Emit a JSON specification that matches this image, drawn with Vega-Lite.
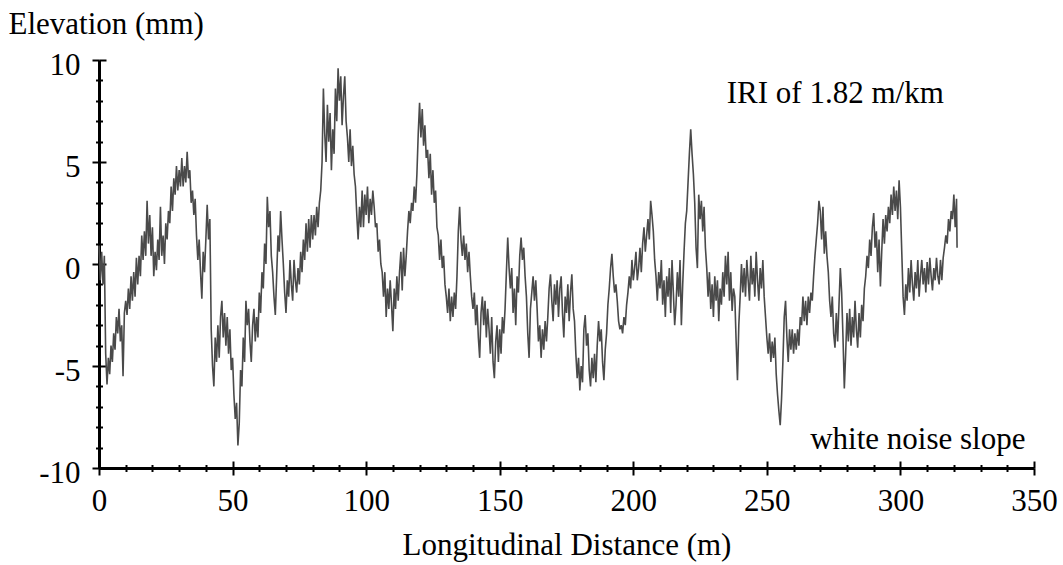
{
  "$schema": "https://vega.github.io/schema/vega-lite/v6.json",
  "width": 935,
  "height": 408,
  "autosize": {"type": "none"},
  "padding": {"left": 99, "top": 60, "right": 29, "bottom": 97},
  "background": "white",
  "config": {
    "view": {"stroke": null},
    "font": "Liberation Serif",
    "axis": {"grid": false}
  },
  "data": {"values": [
    {"d":0,"e":0.9},{"d":0.5,"e":-0.8},{"d":1,"e":0.6},{"d":1.5,"e":-1.0},{"d":2,"e":0.4},{"d":2.5,"e":-4.4},{"d":3,"e":-5.9},{"d":3.5,"e":-4.6},{"d":4,"e":-5.4},{"d":4.5,"e":-4.0},
    {"d":5,"e":-4.8},{"d":5.5,"e":-3.4},{"d":6,"e":-4.2},{"d":6.5,"e":-2.6},{"d":7,"e":-3.4},{"d":7.5,"e":-2.2},{"d":8,"e":-3.8},{"d":8.5,"e":-3.0},{"d":9,"e":-5.5},{"d":9.5,"e":-2.4},
    {"d":10,"e":-1.8},{"d":10.5,"e":-2.5},{"d":11,"e":-1.2},{"d":11.5,"e":-2.2},{"d":12,"e":-0.6},{"d":12.5,"e":-1.8},{"d":13,"e":-0.4},{"d":13.5,"e":-1.6},{"d":14,"e":0.3},{"d":14.5,"e":-1.0},
    {"d":15,"e":0.4},{"d":15.5,"e":-0.6},{"d":16,"e":1.4},{"d":16.5,"e":0.2},{"d":17,"e":1.6},{"d":17.5,"e":0.4},{"d":18,"e":3.1},{"d":18.5,"e":1.0},{"d":19,"e":2.4},{"d":19.5,"e":0.4},
    {"d":20,"e":1.8},{"d":20.5,"e":-0.6},{"d":21,"e":0.6},{"d":21.5,"e":-0.3},{"d":22,"e":1.2},{"d":22.5,"e":0.2},{"d":23,"e":2.8},{"d":23.5,"e":0.4},{"d":24,"e":1.4},{"d":24.5,"e":0.0},
    {"d":25,"e":2.0},{"d":25.5,"e":1.2},{"d":26,"e":2.6},{"d":26.5,"e":2.0},{"d":27,"e":3.8},{"d":27.5,"e":2.6},{"d":28,"e":4.2},{"d":28.5,"e":3.4},{"d":29,"e":4.8},{"d":29.5,"e":3.6},
    {"d":30,"e":4.6},{"d":30.5,"e":3.8},{"d":31,"e":5.2},{"d":31.5,"e":3.8},{"d":32,"e":4.8},{"d":32.5,"e":4.0},{"d":33,"e":5.5},{"d":33.5,"e":4.2},{"d":34,"e":4.6},{"d":34.5,"e":3.0},
    {"d":35,"e":3.6},{"d":35.5,"e":2.4},{"d":36,"e":3.2},{"d":36.5,"e":1.4},{"d":37,"e":0.2},{"d":37.5,"e":1.2},{"d":38,"e":-0.4},{"d":38.5,"e":-1.7},{"d":39,"e":0.6},{"d":39.5,"e":-0.4},
    {"d":40,"e":1.2},{"d":40.5,"e":2.9},{"d":41,"e":1.2},{"d":41.5,"e":2.2},{"d":42,"e":-3.2},{"d":42.5,"e":-5.0},{"d":43,"e":-6.0},{"d":43.5,"e":-3.6},{"d":44,"e":-4.8},{"d":44.5,"e":-3.0},
    {"d":45,"e":-4.6},{"d":45.5,"e":-2.6},{"d":46,"e":-1.8},{"d":46.5,"e":-3.6},{"d":47,"e":-2.4},{"d":47.5,"e":-4.0},{"d":48,"e":-2.6},{"d":48.5,"e":-4.4},{"d":49,"e":-3.2},{"d":49.5,"e":-5.2},
    {"d":50,"e":-4.6},{"d":50.5,"e":-6.4},{"d":51,"e":-7.6},{"d":51.5,"e":-6.8},{"d":52,"e":-8.9},{"d":52.5,"e":-7.8},{"d":53,"e":-5.2},{"d":53.5,"e":-6.0},{"d":54,"e":-3.6},{"d":54.5,"e":-4.8},
    {"d":55,"e":-1.8},{"d":55.5,"e":-3.0},{"d":56,"e":-2.2},{"d":56.5,"e":-3.8},{"d":57,"e":-4.8},{"d":57.5,"e":-3.0},{"d":58,"e":-2.2},{"d":58.5,"e":-3.8},{"d":59,"e":-2.6},{"d":59.5,"e":-3.6},
    {"d":60,"e":-1.4},{"d":60.5,"e":-2.4},{"d":61,"e":-0.4},{"d":61.5,"e":-1.2},{"d":62,"e":1.0},{"d":62.5,"e":0.0},{"d":63,"e":3.3},{"d":63.5,"e":1.8},{"d":64,"e":2.6},{"d":64.5,"e":0.4},
    {"d":65,"e":-0.4},{"d":65.5,"e":-1.6},{"d":66,"e":-2.5},{"d":66.5,"e":-0.6},{"d":67,"e":1.4},{"d":67.5,"e":0.6},{"d":68,"e":2.6},{"d":68.5,"e":1.2},{"d":69,"e":0.0},{"d":69.5,"e":-1.4},
    {"d":70,"e":-2.4},{"d":70.5,"e":-0.8},{"d":71,"e":-1.6},{"d":71.5,"e":0.2},{"d":72,"e":-1.0},{"d":72.5,"e":-1.8},{"d":73,"e":0.2},{"d":73.5,"e":-0.8},{"d":74,"e":-1.4},{"d":74.5,"e":-0.2},
    {"d":75,"e":-1.0},{"d":75.5,"e":0.6},{"d":76,"e":-0.4},{"d":76.5,"e":1.2},{"d":77,"e":0.2},{"d":77.5,"e":2.0},{"d":78,"e":0.6},{"d":78.5,"e":2.2},{"d":79,"e":0.8},{"d":79.5,"e":2.4},
    {"d":80,"e":1.2},{"d":80.5,"e":2.4},{"d":81,"e":1.4},{"d":81.5,"e":2.8},{"d":82,"e":1.8},{"d":82.5,"e":3.0},{"d":83,"e":3.6},{"d":83.5,"e":5.0},{"d":84,"e":8.6},{"d":84.5,"e":6.4},
    {"d":85,"e":5.0},{"d":85.5,"e":7.8},{"d":86,"e":6.0},{"d":86.5,"e":7.4},{"d":87,"e":4.6},{"d":87.5,"e":6.6},{"d":88,"e":5.4},{"d":88.5,"e":8.6},{"d":89,"e":7.0},{"d":89.5,"e":9.6},
    {"d":90,"e":8.0},{"d":90.5,"e":9.2},{"d":91,"e":6.8},{"d":91.5,"e":8.2},{"d":92,"e":9.2},{"d":92.5,"e":7.0},{"d":93,"e":6.2},{"d":93.5,"e":5.0},{"d":94,"e":6.6},{"d":94.5,"e":4.8},
    {"d":95,"e":5.8},{"d":95.5,"e":4.4},{"d":96,"e":3.8},{"d":96.5,"e":2.4},{"d":97,"e":1.2},{"d":97.5,"e":2.8},{"d":98,"e":1.8},{"d":98.5,"e":3.6},{"d":99,"e":1.8},{"d":99.5,"e":3.4},
    {"d":100,"e":2.4},{"d":100.5,"e":3.8},{"d":101,"e":2.0},{"d":101.5,"e":3.2},{"d":102,"e":2.4},{"d":102.5,"e":3.6},{"d":103,"e":2.8},{"d":103.5,"e":1.8},{"d":104,"e":2.0},{"d":104.5,"e":0.6},
    {"d":105,"e":1.2},{"d":105.5,"e":0.0},{"d":106,"e":-0.4},{"d":106.5,"e":-1.6},{"d":107,"e":-0.4},{"d":107.5,"e":-2.6},{"d":108,"e":-1.2},{"d":108.5,"e":-2.2},{"d":109,"e":-0.8},{"d":109.5,"e":-2.0},
    {"d":110,"e":-3.3},{"d":110.5,"e":-1.2},{"d":111,"e":-2.2},{"d":111.5,"e":-0.6},{"d":112,"e":-1.8},{"d":112.5,"e":-0.4},{"d":113,"e":0.6},{"d":113.5,"e":-1.3},{"d":114,"e":0.8},{"d":114.5,"e":-0.6},
    {"d":115,"e":0.4},{"d":115.5,"e":1.6},{"d":116,"e":2.6},{"d":116.5,"e":2.0},{"d":117,"e":3.0},{"d":117.5,"e":2.6},{"d":118,"e":3.8},{"d":118.5,"e":3.0},{"d":119,"e":4.4},{"d":119.5,"e":6.4},
    {"d":120,"e":7.9},{"d":120.5,"e":6.2},{"d":121,"e":7.6},{"d":121.5,"e":5.8},{"d":122,"e":6.8},{"d":122.5,"e":5.2},{"d":123,"e":5.6},{"d":123.5,"e":4.2},{"d":124,"e":5.4},{"d":124.5,"e":3.4},
    {"d":125,"e":4.6},{"d":125.5,"e":3.0},{"d":126,"e":3.6},{"d":126.5,"e":1.8},{"d":127,"e":1.4},{"d":127.5,"e":0.2},{"d":128,"e":1.2},{"d":128.5,"e":-0.2},{"d":129,"e":0.4},{"d":129.5,"e":-1.0},
    {"d":130,"e":-1.6},{"d":130.5,"e":-2.4},{"d":131,"e":-1.2},{"d":131.5,"e":-2.8},{"d":132,"e":-1.6},{"d":132.5,"e":-2.6},{"d":133,"e":-1.4},{"d":133.5,"e":-2.2},{"d":134,"e":-0.6},{"d":134.5,"e":1.6},
    {"d":135,"e":2.8},{"d":135.5,"e":1.2},{"d":136,"e":0.4},{"d":136.5,"e":1.4},{"d":137,"e":0.2},{"d":137.5,"e":1.0},{"d":138,"e":-0.4},{"d":138.5,"e":0.6},{"d":139,"e":-0.6},{"d":139.5,"e":-1.6},
    {"d":140,"e":-2.2},{"d":140.5,"e":-1.4},{"d":141,"e":-3.0},{"d":141.5,"e":-2.0},{"d":142,"e":-3.6},{"d":142.5,"e":-4.6},{"d":143,"e":-2.4},{"d":143.5,"e":-1.6},{"d":144,"e":-3.0},{"d":144.5,"e":-1.8},
    {"d":145,"e":-3.6},{"d":145.5,"e":-2.2},{"d":146,"e":-3.2},{"d":146.5,"e":-4.4},{"d":147,"e":-2.6},{"d":147.5,"e":-4.8},{"d":148,"e":-5.6},{"d":148.5,"e":-3.8},{"d":149,"e":-3.0},{"d":149.5,"e":-4.8},
    {"d":150,"e":-3.2},{"d":150.5,"e":-4.4},{"d":151,"e":-2.6},{"d":151.5,"e":-3.4},{"d":152,"e":-2.2},{"d":152.5,"e":-0.4},{"d":153,"e":1.3},{"d":153.5,"e":-0.2},{"d":154,"e":-1.2},{"d":154.5,"e":-0.2},
    {"d":155,"e":-2.4},{"d":155.5,"e":-1.2},{"d":156,"e":-3.0},{"d":156.5,"e":-0.6},{"d":157,"e":-1.4},{"d":157.5,"e":0.4},{"d":158,"e":1.3},{"d":158.5,"e":0.2},{"d":159,"e":0.8},{"d":159.5,"e":-0.6},
    {"d":160,"e":-1.6},{"d":160.5,"e":-3.4},{"d":161,"e":-4.6},{"d":161.5,"e":-2.2},{"d":162,"e":-1.4},{"d":162.5,"e":-0.6},{"d":163,"e":-1.8},{"d":163.5,"e":-0.8},{"d":164,"e":-2.2},{"d":164.5,"e":-3.8},
    {"d":165,"e":-3.0},{"d":165.5,"e":-4.6},{"d":166,"e":-3.2},{"d":166.5,"e":-4.2},{"d":167,"e":-2.8},{"d":167.5,"e":-3.8},{"d":168,"e":-2.6},{"d":168.5,"e":-1.2},{"d":169,"e":-0.5},{"d":169.5,"e":-1.8},
    {"d":170,"e":-2.8},{"d":170.5,"e":-1.0},{"d":171,"e":-2.0},{"d":171.5,"e":-0.8},{"d":172,"e":-2.6},{"d":172.5,"e":-1.2},{"d":173,"e":-0.6},{"d":173.5,"e":-2.4},{"d":174,"e":-3.6},{"d":174.5,"e":-1.6},
    {"d":175,"e":-2.4},{"d":175.5,"e":-1.0},{"d":176,"e":-2.8},{"d":176.5,"e":-1.4},{"d":177,"e":-0.5},{"d":177.5,"e":-2.2},{"d":178,"e":-2.8},{"d":178.5,"e":-4.4},{"d":179,"e":-5.6},{"d":179.5,"e":-4.6},
    {"d":180,"e":-6.2},{"d":180.5,"e":-5.0},{"d":181,"e":-5.8},{"d":181.5,"e":-3.2},{"d":182,"e":-2.5},{"d":182.5,"e":-4.0},{"d":183,"e":-3.4},{"d":183.5,"e":-5.2},{"d":184,"e":-6.0},{"d":184.5,"e":-4.6},
    {"d":185,"e":-5.6},{"d":185.5,"e":-4.4},{"d":186,"e":-5.8},{"d":186.5,"e":-4.0},{"d":187,"e":-2.8},{"d":187.5,"e":-3.8},{"d":188,"e":-3.2},{"d":188.5,"e":-4.8},{"d":189,"e":-5.7},{"d":189.5,"e":-4.2},
    {"d":190,"e":-3.4},{"d":190.5,"e":-2.0},{"d":191,"e":-1.2},{"d":191.5,"e":-0.2},{"d":192,"e":0.5},{"d":192.5,"e":-0.6},{"d":193,"e":-1.4},{"d":193.5,"e":-1.0},{"d":194,"e":-1.8},{"d":194.5,"e":-2.8},
    {"d":195,"e":-3.2},{"d":195.5,"e":-3.0},{"d":196,"e":-3.4},{"d":196.5,"e":-2.6},{"d":197,"e":-3.0},{"d":197.5,"e":-2.0},{"d":198,"e":-1.4},{"d":198.5,"e":-0.6},{"d":199,"e":-1.2},{"d":199.5,"e":0.2},
    {"d":200,"e":-0.8},{"d":200.5,"e":-0.2},{"d":201,"e":0.6},{"d":201.5,"e":-0.8},{"d":202,"e":-0.2},{"d":202.5,"e":0.8},{"d":203,"e":-0.4},{"d":203.5,"e":1.0},{"d":204,"e":1.8},{"d":204.5,"e":0.6},
    {"d":205,"e":1.4},{"d":205.5,"e":2.2},{"d":206,"e":1.2},{"d":206.5,"e":3.1},{"d":207,"e":2.4},{"d":207.5,"e":1.6},{"d":208,"e":0.2},{"d":208.5,"e":-0.6},{"d":209,"e":-1.8},{"d":209.5,"e":-0.4},
    {"d":210,"e":-1.2},{"d":210.5,"e":0.2},{"d":211,"e":-2.0},{"d":211.5,"e":-0.8},{"d":212,"e":-2.6},{"d":212.5,"e":-0.6},{"d":213,"e":-1.6},{"d":213.5,"e":-0.2},{"d":214,"e":-2.4},{"d":214.5,"e":0.2},
    {"d":215,"e":-1.4},{"d":215.5,"e":-3.0},{"d":216,"e":-2.0},{"d":216.5,"e":-0.4},{"d":217,"e":-1.6},{"d":217.5,"e":0.2},{"d":218,"e":-3.0},{"d":218.5,"e":-1.0},{"d":219,"e":0.6},{"d":219.5,"e":2.0},
    {"d":220,"e":2.6},{"d":220.5,"e":4.0},{"d":221,"e":5.4},{"d":221.5,"e":6.6},{"d":222,"e":5.4},{"d":222.5,"e":4.4},{"d":223,"e":3.0},{"d":223.5,"e":0.8},{"d":224,"e":-0.2},{"d":224.5,"e":3.4},
    {"d":225,"e":2.2},{"d":225.5,"e":3.1},{"d":226,"e":1.6},{"d":226.5,"e":2.8},{"d":227,"e":0.8},{"d":227.5,"e":-0.2},{"d":228,"e":-1.6},{"d":228.5,"e":-0.4},{"d":229,"e":-2.2},{"d":229.5,"e":-1.0},
    {"d":230,"e":-2.6},{"d":230.5,"e":-0.6},{"d":231,"e":-1.8},{"d":231.5,"e":-0.8},{"d":232,"e":-2.8},{"d":232.5,"e":-1.2},{"d":233,"e":-2.0},{"d":233.5,"e":-0.4},{"d":234,"e":-1.6},{"d":234.5,"e":0.4},
    {"d":235,"e":-1.0},{"d":235.5,"e":0.6},{"d":236,"e":-1.8},{"d":236.5,"e":-0.4},{"d":237,"e":-2.3},{"d":237.5,"e":-1.2},{"d":238,"e":-1.6},{"d":238.5,"e":-3.8},{"d":239,"e":-5.7},{"d":239.5,"e":-3.0},
    {"d":240,"e":-1.6},{"d":240.5,"e":0.0},{"d":241,"e":-1.4},{"d":241.5,"e":-0.2},{"d":242,"e":-1.6},{"d":242.5,"e":0.2},{"d":243,"e":-0.8},{"d":243.5,"e":-1.8},{"d":244,"e":0.4},{"d":244.5,"e":-1.0},
    {"d":245,"e":-0.2},{"d":245.5,"e":-1.6},{"d":246,"e":0.6},{"d":246.5,"e":-0.8},{"d":247,"e":-1.8},{"d":247.5,"e":-0.2},{"d":248,"e":-1.2},{"d":248.5,"e":0.2},{"d":249,"e":-1.6},{"d":249.5,"e":-2.6},
    {"d":250,"e":-3.6},{"d":250.5,"e":-4.4},{"d":251,"e":-3.4},{"d":251.5,"e":-4.8},{"d":252,"e":-3.8},{"d":252.5,"e":-4.6},{"d":253,"e":-3.6},{"d":253.5,"e":-5.4},{"d":254,"e":-6.4},{"d":254.5,"e":-7.2},
    {"d":255,"e":-7.9},{"d":255.5,"e":-6.6},{"d":256,"e":-4.8},{"d":256.5,"e":-2.6},{"d":257,"e":-1.8},{"d":257.5,"e":-3.6},{"d":258,"e":-4.8},{"d":258.5,"e":-3.2},{"d":259,"e":-4.2},{"d":259.5,"e":-3.2},
    {"d":260,"e":-4.4},{"d":260.5,"e":-3.4},{"d":261,"e":-4.2},{"d":261.5,"e":-3.2},{"d":262,"e":-4.0},{"d":262.5,"e":-2.6},{"d":263,"e":-3.0},{"d":263.5,"e":-1.6},{"d":264,"e":-2.8},{"d":264.5,"e":-1.8},
    {"d":265,"e":-3.0},{"d":265.5,"e":-1.6},{"d":266,"e":-2.4},{"d":266.5,"e":-1.4},{"d":267,"e":-1.8},{"d":267.5,"e":-0.6},{"d":268,"e":0.4},{"d":268.5,"e":1.2},{"d":269,"e":2.0},{"d":269.5,"e":3.1},
    {"d":270,"e":2.6},{"d":270.5,"e":1.2},{"d":271,"e":2.8},{"d":271.5,"e":0.5},{"d":272,"e":1.6},{"d":272.5,"e":0.4},{"d":273,"e":-0.4},{"d":273.5,"e":-1.8},{"d":274,"e":-2.6},{"d":274.5,"e":-1.6},
    {"d":275,"e":-3.4},{"d":275.5,"e":-4.1},{"d":276,"e":-2.4},{"d":276.5,"e":-3.8},{"d":277,"e":-2.0},{"d":277.5,"e":-0.2},{"d":278,"e":-1.4},{"d":278.5,"e":-3.6},{"d":279,"e":-6.1},{"d":279.5,"e":-4.4},
    {"d":280,"e":-2.4},{"d":280.5,"e":-3.8},{"d":281,"e":-2.2},{"d":281.5,"e":-4.0},{"d":282,"e":-2.6},{"d":282.5,"e":-3.6},{"d":283,"e":-1.8},{"d":283.5,"e":-3.2},{"d":284,"e":-4.1},{"d":284.5,"e":-2.4},
    {"d":285,"e":-3.6},{"d":285.5,"e":-2.0},{"d":286,"e":-2.8},{"d":286.5,"e":-1.2},{"d":287,"e":-0.6},{"d":287.5,"e":0.4},{"d":288,"e":-0.2},{"d":288.5,"e":1.2},{"d":289,"e":0.4},{"d":289.5,"e":1.8},
    {"d":290,"e":2.5},{"d":290.5,"e":0.8},{"d":291,"e":1.6},{"d":291.5,"e":-0.4},{"d":292,"e":1.2},{"d":292.5,"e":-1.1},{"d":293,"e":0.6},{"d":293.5,"e":2.2},{"d":294,"e":1.0},{"d":294.5,"e":2.4},
    {"d":295,"e":1.6},{"d":295.5,"e":2.8},{"d":296,"e":2.0},{"d":296.5,"e":3.4},{"d":297,"e":2.4},{"d":297.5,"e":3.8},{"d":298,"e":2.6},{"d":298.5,"e":3.6},{"d":299,"e":2.2},{"d":299.5,"e":4.1},
    {"d":300,"e":2.8},{"d":300.5,"e":0.6},{"d":301,"e":-1.6},{"d":301.5,"e":-2.5},{"d":302,"e":-1.0},{"d":302.5,"e":-1.8},{"d":303,"e":-0.2},{"d":303.5,"e":-1.4},{"d":304,"e":0.2},{"d":304.5,"e":-1.0},
    {"d":305,"e":-1.8},{"d":305.5,"e":-0.4},{"d":306,"e":-1.2},{"d":306.5,"e":0.2},{"d":307,"e":-1.6},{"d":307.5,"e":-0.6},{"d":308,"e":0.2},{"d":308.5,"e":-1.0},{"d":309,"e":-0.2},{"d":309.5,"e":-1.4},
    {"d":310,"e":0.1},{"d":310.5,"e":-1.0},{"d":311,"e":0.3},{"d":311.5,"e":-0.6},{"d":312,"e":-1.3},{"d":312.5,"e":-0.2},{"d":313,"e":-0.8},{"d":313.5,"e":0.3},{"d":314,"e":-0.6},{"d":314.5,"e":-1.0},
    {"d":315,"e":0.2},{"d":315.5,"e":-0.8},{"d":316,"e":0.3},{"d":316.5,"e":0.8},{"d":317,"e":1.4},{"d":317.5,"e":1.0},{"d":318,"e":2.2},{"d":318.5,"e":1.6},{"d":319,"e":2.6},{"d":319.5,"e":2.2},
    {"d":320,"e":3.4},{"d":320.5,"e":1.8},{"d":321,"e":3.2},{"d":321.2,"e":0.8}
  ]},
  "layer": [
    {
      "mark": {"type": "line", "color": "#4a4a4a", "strokeWidth": 1.6, "interpolate": "linear"},
      "encoding": {
        "x": {
          "field": "d", "type": "quantitative",
          "scale": {"domain": [0, 350], "nice": false, "zero": false},
          "axis": {
            "orient": "bottom",
            "values": [0,10,20,30,40,50,60,70,80,90,100,110,120,130,140,150,160,170,180,190,200,210,220,230,240,250,260,270,280,290,300,310,320,330,340,350],
            "labelExpr": "datum.value % 50 === 0 ? '' + datum.value : ''",
            "labelFlush": false, "labelOverlap": false, "labelBound": false,
            "labelFont": "Liberation Serif", "labelFontSize": 31, "labelColor": "black",
            "labelPadding": 11,
            "tickColor": "black", "tickWidth": 2,
            "tickSize": {"condition": {"test": "datum.value % 50 === 0", "value": 7}, "value": 3.5},
            "domainColor": "black", "domainWidth": 3,
            "title": "Longitudinal Distance (m)",
            "titleFont": "Liberation Serif", "titleFontSize": 31, "titleFontWeight": "normal", "titleColor": "black",
            "titleBaseline": "alphabetic", "titleY": 86
          }
        },
        "y": {
          "field": "e", "type": "quantitative",
          "scale": {"domain": [-10, 10], "nice": false, "zero": false},
          "axis": {
            "orient": "left",
            "values": [-10,-9,-8,-7,-6,-5,-4,-3,-2,-1,0,1,2,3,4,5,6,7,8,9,10],
            "labelExpr": "datum.value % 5 === 0 ? '' + datum.value : ''",
            "labelOverlap": false, "labelBound": false, "labelFlush": false,
            "labelFont": "Liberation Serif", "labelFontSize": 31, "labelColor": "black",
            "labelBaseline": "alphabetic", "labelOffset": 14, "labelPadding": 12,
            "tickColor": "black", "tickWidth": 2,
            "tickSize": {"condition": {"test": "datum.value % 5 === 0", "value": 7}, "value": 3.5},
            "domainColor": "black", "domainWidth": 3,
            "title": "Elevation (mm)",
            "titleFont": "Liberation Serif", "titleFontSize": 31, "titleFontWeight": "normal", "titleColor": "black",
            "titleAngle": 0, "titleAlign": "left", "titleBaseline": "alphabetic",
            "titleX": -91, "titleY": -27
          }
        }
      }
    },
    {
      "mark": {"type": "line", "strokeOpacity": 0},
      "encoding": {
        "x": {
          "field": "d", "type": "quantitative",
          "axis": {
            "orient": "bottom",
            "values": [0,10,20,30,40,50,60,70,80,90,100,110,120,130,140,150,160,170,180,190,200,210,220,230,240,250,260,270,280,290,300,310,320,330,340,350],
            "labels": false, "domain": false, "title": null,
            "tickColor": "black", "tickWidth": 2,
            "tickSize": {"condition": {"test": "datum.value % 50 === 0", "value": -7}, "value": -3.5}
          }
        },
        "y": {
          "field": "e", "type": "quantitative",
          "axis": {
            "orient": "left",
            "values": [-10,-9,-8,-7,-6,-5,-4,-3,-2,-1,0,1,2,3,4,5,6,7,8,9,10],
            "labels": false, "domain": false, "title": null,
            "tickColor": "black", "tickWidth": 2,
            "tickSize": {"condition": {"test": "datum.value % 5 === 0", "value": -7}, "value": -3.5}
          }
        }
      }
    },
    {
      "data": {"values": [{"note": "IRI of 1.82 m/km"}]},
      "mark": {"type": "text", "font": "Liberation Serif", "fontSize": 31, "align": "left", "baseline": "alphabetic", "color": "black"},
      "encoding": {
        "x": {"datum": 235, "type": "quantitative", "axis": null},
        "y": {"datum": 7.87, "type": "quantitative", "axis": null},
        "text": {"field": "note"}
      }
    },
    {
      "data": {"values": [{"note": "white noise slope"}]},
      "mark": {"type": "text", "font": "Liberation Serif", "fontSize": 31, "align": "right", "baseline": "alphabetic", "color": "black"},
      "encoding": {
        "x": {"datum": 346.8, "type": "quantitative", "axis": null},
        "y": {"datum": -9.06, "type": "quantitative", "axis": null},
        "text": {"field": "note"}
      }
    }
  ],
  "resolve": {"axis": {"x": "independent", "y": "independent"}}
}
